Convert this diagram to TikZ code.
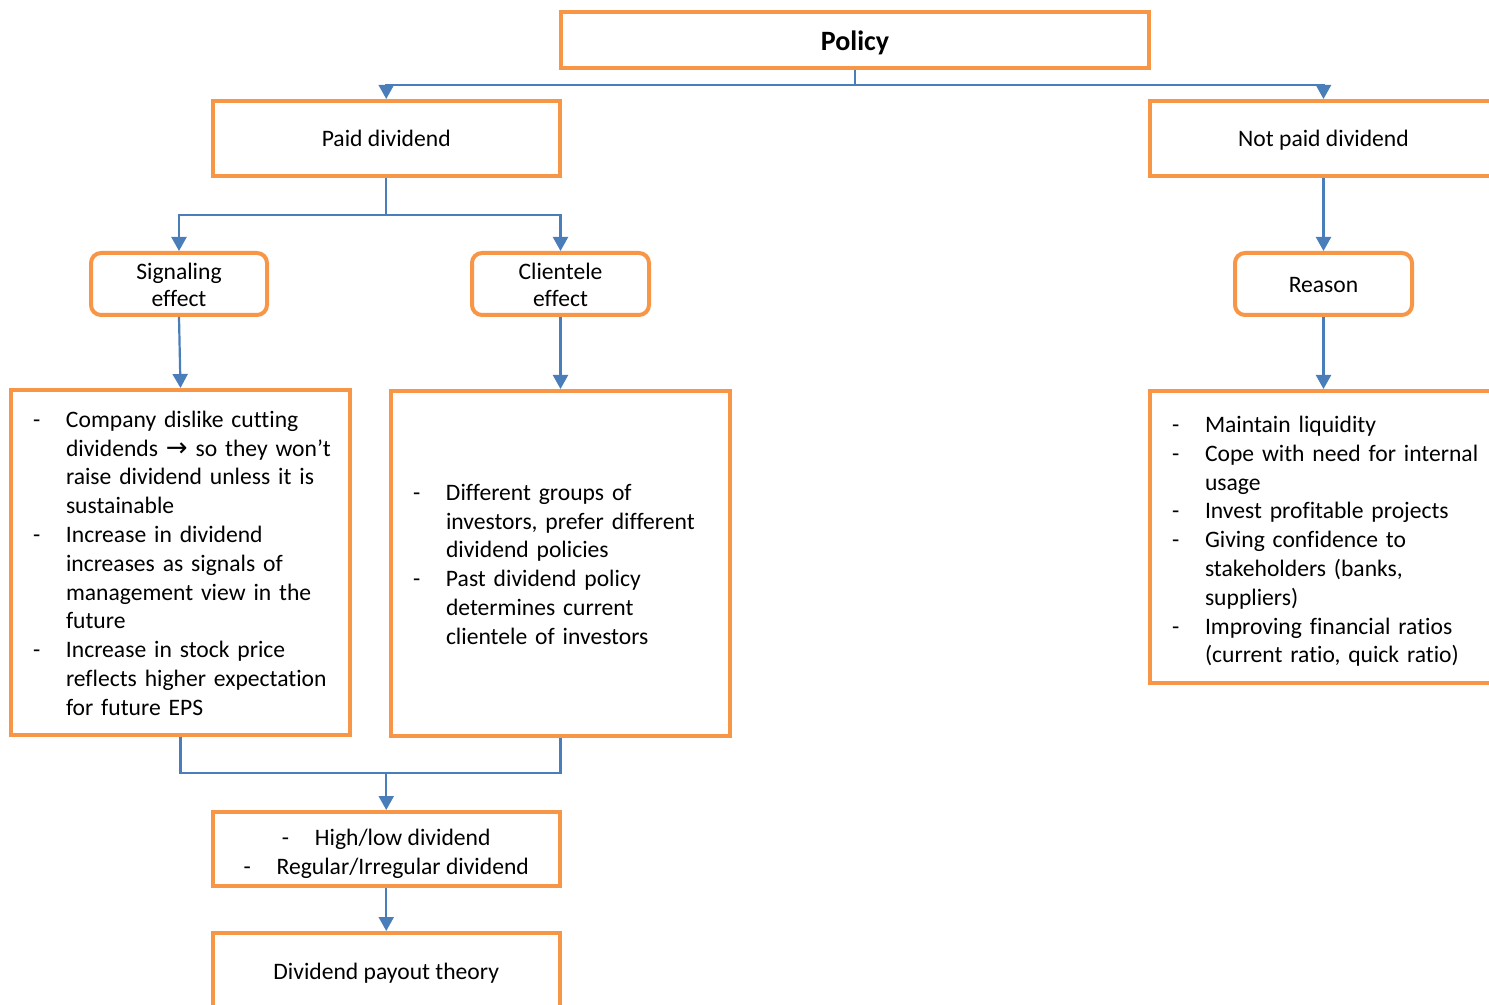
\documentclass[tikz,border=0pt]{standalone}
\usepackage{fontspec}
\setmainfont{Carlito}[Ligatures={TeX,NoCommon}]
\newfontfamily\dejavu{DejaVu Sans}
\usetikzlibrary{arrows.meta}
\definecolor{orgc}{HTML}{F79646}
\definecolor{bluc}{HTML}{4A7EBB}
\tikzset{
  box/.style={draw=orgc, line width=2pt, fill=white, inner sep=0pt, align=center,
    font=\fontsize{11.8}{14.4}\selectfont},
  rbox/.style={box, rounded corners=5pt, font=\fontsize{11.8}{13.5}\selectfont},
  listbox/.style={box, align=left, inner xsep=11pt},
  conn/.style={draw=bluc, line width=1.1pt},
  arr/.style={conn, -{Triangle[width=7.5pt,length=7pt]}},
}
\newcommand{\dsh}{\makebox[16.5pt][l]{-}}
\newcommand{\dn}[2]{\raisebox{-#1}[\height][\depth]{#2}}
\begin{document}
\begin{tikzpicture}[x=0.5pt,y=-0.5pt]
\useasboundingbox (0,0) rectangle (1489,1005);
\clip (0,0) rectangle (1489,1005);
% boxes
\node[box, minimum width=294pt, minimum height=28pt, font=\fontsize{14}{16.8}\bfseries\selectfont] (policy) at (855,40) {\dn{1.5pt}{Policy}};
\node[box, minimum width=173.75pt, minimum height=37.5pt] (paid) at (386.25,138.5) {Paid dividend};
\node[box, minimum width=173.75pt, minimum height=37.5pt] (notpaid) at (1323.5,138.5) {\dn{1pt}{Not paid dividend}};
\node[rbox, minimum width=88pt, minimum height=31pt] (sig) at (179,284) {\dn{2pt}{\begin{tabular}{@{}c@{}}Signaling\\effect\end{tabular}}};
\node[rbox, minimum width=88.5pt, minimum height=31pt] (cli) at (560.5,284) {\dn{2pt}{\begin{tabular}{@{}c@{}}Clientele\\effect\end{tabular}}};
\node[rbox, minimum width=88.5pt, minimum height=31pt] (reason) at (1323.5,284) {\dn{0.5pt}{Reason}};
\node[listbox, minimum width=169.5pt, minimum height=172.5pt, text width=147.5pt] (left) at (180.5,562.5) {\dn{1.5pt}{%
\begin{tabular}{@{}p{16.5pt}@{}l@{}}
-&Company dislike cutting\\
 &dividends {\dejavu\fontsize{13}{14}\selectfont →} so they won’t\\
 &raise dividend unless it is\\
 &sustainable\\
-&Increase in dividend\\
 &increases as signals of\\
 &management view in the\\
 &future\\
-&Increase in stock price\\
 &reflects higher expectation\\
 &for future EPS
\end{tabular}}};
\node[listbox, minimum width=169.5pt, minimum height=172.5pt, text width=147.5pt] (mid) at (560.5,563.5) {\dn{1.5pt}{%
\begin{tabular}{@{}p{16.5pt}@{}l@{}}
-&Different groups of\\
 &investors, prefer different\\
 &dividend policies\\
-&Past dividend policy\\
 &determines current\\
 &clientele of investors
\end{tabular}}};
\node[listbox, minimum width=173.5pt, minimum height=146pt, text width=151.5pt] (right) at (1323.5,537) {\dn{2.5pt}{%
\begin{tabular}{@{}p{16.5pt}@{}l@{}}
-&Maintain liquidity\\
-&Cope with need for internal\\
 &usage\\
-&Invest profitable projects\\
-&Giving confidence to\\
 &stakeholders (banks,\\
 &suppliers)\\
-&Improving financial ratios\\
 &(current ratio, quick ratio)
\end{tabular}}};
\node[box, minimum width=173.75pt, minimum height=37pt] (hl) at (386.25,849) {\dn{2.5pt}{\begin{tabular}{@{}c@{}}\dsh High/low dividend\\\dsh Regular/Irregular dividend\end{tabular}}};
\node[box, minimum width=173.75pt, minimum height=38.5pt] (payout) at (386.25,971.5) {\dn{1pt}{Dividend payout theory}};
% connectors
\draw[arr] (policy.south) -- ++(0,15) -| (paid.north);
\draw[arr] (policy.south) -- ++(0,15) -| (notpaid.north);
\draw[arr] (paid.south) -- ++(0,37) -| (sig.north);
\draw[arr] (paid.south) -- ++(0,37) -| (cli.north);
\draw[arr] (sig.south) -- (left.north);
\draw[arr] (cli.south) -- (mid.north);
\draw[arr] (notpaid.south) -- (reason.north);
\draw[arr] (reason.south) -- (right.north);
\coordinate (join) at (386.25,773);
\draw[conn] (left.south) |- (join) -| (mid.south);
\draw[arr] (join) -- (hl.north);
\draw[arr] (hl.south) -- (payout.north);
\end{tikzpicture}
\end{document}
